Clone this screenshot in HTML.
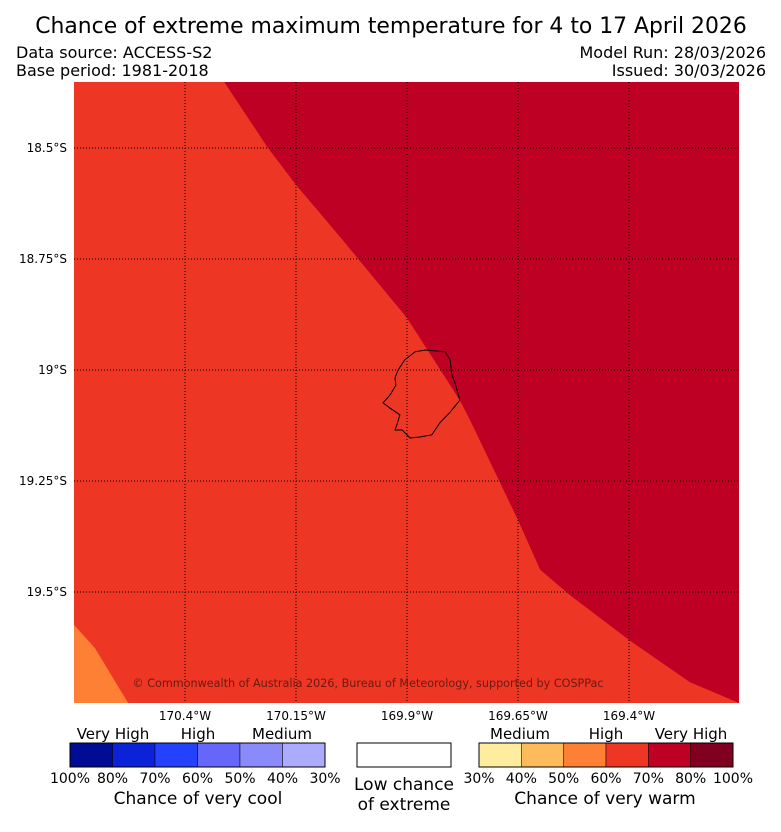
<!DOCTYPE html>
<html><head><meta charset="utf-8"><style>
body{margin:0;background:#fff;width:781px;height:827px;overflow:hidden;font-family:"Liberation Sans","DejaVu Sans",sans-serif}
svg text{font-family:"DejaVu Sans","Liberation Sans",sans-serif}
</style></head><body>
<svg id="chart" width="781" height="827" viewBox="0 0 781 827">
<text x="391" y="33" font-size="21.9" text-anchor="middle">Chance of extreme maximum temperature for 4 to 17 April 2026</text>
<text x="16" y="58" font-size="16">Data source: ACCESS-S2</text>
<text x="16" y="76" font-size="16">Base period: 1981-2018</text>
<text x="766" y="58" font-size="16" text-anchor="end">Model Run: 28/03/2026</text>
<text x="766" y="76" font-size="16" text-anchor="end">Issued: 30/03/2026</text>
<defs><clipPath id="mapclip"><rect x="74" y="82" width="665" height="621"/></clipPath></defs>
<g id="map" clip-path="url(#mapclip)">
<rect x="74" y="82" width="665" height="621" fill="#ee3624"/>
</g>
<g id="grid"></g>
<text x="368" y="687" font-size="11.2" fill="#6b1a10" text-anchor="middle">© Commonwealth of Australia 2026, Bureau of Meteorology, supported by COSPPac</text>
<g id="axes"></g>
<g id="legend"></g>
</svg>
<script>
const lonTicks=[-170.4,-170.15,-169.9,-169.65,-169.4];
const lonLabels=["170.4°W","170.15°W","169.9°W","169.65°W","169.4°W"];
const latTicks=[-18.5,-18.75,-19,-19.25,-19.5];
const latLabels=["18.5°S","18.75°S","19°S","19.25°S","19.5°S"];
const darkRedLon=[-170.312,-170.213,-170.15,-170.051,-169.9,-169.781,-169.758,-169.65,-169.6,-169.533,-169.4,-169.263,-169.152];
const darkRedLat=[-18.351,-18.5,-18.583,-18.7,-18.883,-19.068,-19.113,-19.338,-19.45,-19.507,-19.608,-19.703,-19.75];
const orangeLon=[-170.65,-170.603,-170.528];
const orangeLat=[-19.574,-19.626,-19.75];
const islandLon=[-169.859,-169.814,-169.803,-169.799,-169.792,-169.781,-169.803,-169.826,-169.844,-169.871,-169.893,-169.911,-169.927,-169.923,-169.916,-169.938,-169.954,-169.938,-169.925,-169.927,-169.92,-169.905,-169.882];
const islandLat=[-18.955,-18.959,-18.977,-19.011,-19.029,-19.068,-19.095,-19.119,-19.146,-19.151,-19.153,-19.135,-19.135,-19.124,-19.101,-19.086,-19.074,-19.056,-19.034,-19.018,-19.0,-18.977,-18.959];
const coolColors=["#000c94","#0a22d8","#2442fe","#6766fa","#8b8afb","#abacfd"];
const coolLabels=["100%","80%","70%","60%","50%","40%","30%"];
const warmColors=["#ffed9f","#fdbb5b","#fd8035","#ee3624","#bd0024","#81001f"];
const warmLabels=["30%","40%","50%","60%","70%","80%","100%"];

const NS="http://www.w3.org/2000/svg";
const X0=74,X1=739,Y0=82,Y1=703;
function xS(lon){return 185+(lon+170.4)*444;}
function yS(lat){return 148+(-18.5-lat)*444;}
function mk(tag,attrs,parent){const e=document.createElementNS(NS,tag);for(const k in attrs)e.setAttribute(k,attrs[k]);parent.appendChild(e);return e;}
const map=document.getElementById('map'),grid=document.getElementById('grid'),axes=document.getElementById('axes'),legend=document.getElementById('legend');

let pts=darkRedLon.map((l,i)=>xS(l)+','+yS(darkRedLat[i]));
pts.push(X1+','+Y1,X1+','+Y0);
let p=mk('polygon',{points:pts.join(' '),fill:'#bd0024'},map);


pts=[X0+','+yS(orangeLat[0])].concat(orangeLon.map((l,i)=>xS(l)+','+yS(orangeLat[i])));
pts.push(X0+','+Y1);
p=mk('polygon',{points:pts.join(' '),fill:'#fd8035'},map);



lonTicks.forEach((l,i)=>{
 const x=xS(l);
 const g=mk('line',{x1:x,y1:Y0,x2:x,y2:Y1,stroke:'#000','stroke-width':1,'stroke-dasharray':'1,2'},grid);
 
 
 const t=mk('text',{x:x,y:720,'font-size':12,'text-anchor':'middle'},axes);t.textContent=lonLabels[i];
 
 
});
latTicks.forEach((l,i)=>{
 const y=yS(l);
 const g=mk('line',{x1:X0,y1:y,x2:X1,y2:y,stroke:'#000','stroke-width':1,'stroke-dasharray':'1,2'},grid);
 
 
 const t=mk('text',{x:67,y:y+4,'font-size':12,'text-anchor':'end'},axes);t.textContent=latLabels[i];
 
 
});
const isl=mk('polygon',{points:islandLon.map((l,i)=>xS(l)+','+yS(islandLat[i])).join(' '),fill:'none',stroke:'#000','stroke-width':1},grid);



function bar(x0,x1,colors,labels,name){
 const w=(x1-x0)/colors.length;
 colors.forEach((c,i)=>{
  const r=mk('rect',{x:x0+i*w,y:743,width:w,height:24,fill:c,stroke:'#000','stroke-width':0.5},legend);
  
  
 });
 const o=mk('rect',{x:x0,y:743,width:x1-x0,height:24,fill:'none',stroke:'#000','stroke-width':1},legend);
 
 
 labels.forEach((s,i)=>{
  const t=mk('text',{x:x0+i*w,y:783,'font-size':14,'text-anchor':'middle'},legend);t.textContent=s;
  
  
 });
}
bar(70,325,coolColors,coolLabels,'cool-colorbar');
bar(479,733,warmColors,warmLabels,'warm-colorbar');
const wb=mk('rect',{x:357,y:743,width:94,height:24,fill:'#fff',stroke:'#000','stroke-width':1},legend);


function txt(x,y,s,size,name){const t=mk('text',{x:x,y:y,'font-size':size,'text-anchor':'middle'},legend);t.textContent=s;
 
 }
txt(113,739,'Very High',15,'cool-very-high-label');
txt(198,739,'High',15,'cool-high-label');
txt(282,739,'Medium',15,'cool-medium-label');
txt(520,739,'Medium',15,'warm-medium-label');
txt(606,739,'High',15,'warm-high-label');
txt(691,739,'Very High',15,'warm-very-high-label');
txt(198,804,'Chance of very cool',17,'cool-colorbar-title');
txt(605,804,'Chance of very warm',17,'warm-colorbar-title');
txt(404,790,'Low chance',17,'low-chance-label-line1');
txt(404,810,'of extreme',17,'low-chance-label-line2');
</script>
</body></html>
